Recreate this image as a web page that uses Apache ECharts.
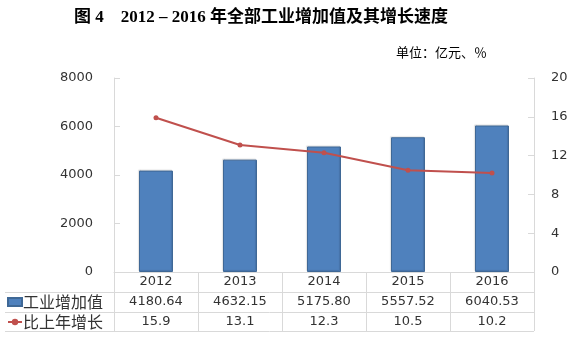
<!DOCTYPE html>
<html>
<head>
<meta charset="utf-8">
<script src="https://cdn.jsdelivr.net/npm/echarts@6/dist/echarts.min.js"></script>
<style>
  html, body { margin: 0; padding: 0; background: #fff; }
  #chart { width: 573px; height: 339px; }
</style>
</head>
<body>
<div id="chart"></div>
<script>
// 2012–2016 industrial value added (100 million yuan) and year-on-year growth (%)
const years = ['2012', '2013', '2014', '2015', '2016'];
const valueAdded = [4180.64, 4632.15, 5175.80, 5557.52, 6040.53];
const growth = [15.9, 13.1, 12.3, 10.5, 10.2];
const leftTicks = { min: 0, max: 8000, interval: 2000 };
const rightTicks = { min: 0, max: 20, interval: 4 };
const seriesNames = ['工业增加值', '比上年增长'];

const NUM_FONT = 'DejaVu Sans, Verdana, sans-serif';
const CJK_FONT = '"Noto Sans CJK SC", sans-serif';
const GRID_COLOR = '#d9d9d9';
const TEXT_COLOR = '#333';

const chart = echarts.init(document.getElementById('chart'), null, { renderer: 'canvas' });

// Data table rows under the category axis: year / value / growth
function tableLabel(value, idx) {
  return '{y|' + value + '}\n{v|' + valueAdded[idx].toFixed(2) + '}\n{g|' + growth[idx].toFixed(1) + '}';
}
const cellStyle = { fontFamily: NUM_FONT, fontSize: 13, color: TEXT_COLOR, lineHeight: 20, height: 20 };

const option = {
  animation: false,
  backgroundColor: '#fff',
  title: {
    text: '图 4\u30002012 – 2016 年全部工业增加值及其增长速度',
    left: 74,
    top: 9,
    padding: 0,
    textStyle: {
      fontFamily: '"Liberation Serif", "Noto Sans CJK SC", serif',
      fontSize: 17,
      fontWeight: 'bold',
      color: '#000'
    }
  },
  grid: { left: 114, right: 39, top: 78, bottom: 67, containLabel: false },
  legend: {
    orient: 'vertical',
    left: 7,
    top: 292,
    padding: 0,
    itemGap: 0,
    itemWidth: 14,
    itemHeight: 8,
    selectedMode: false,
    textStyle: {
      fontFamily: CJK_FONT,
      fontSize: 16,
      color: TEXT_COLOR,
      lineHeight: 20,
      padding: [0, 0, 0, -4]
    },
    data: [
      { name: seriesNames[0], icon: 'rect' },
      { name: seriesNames[1] }
    ]
  },
  xAxis: {
    type: 'category',
    data: years,
    boundaryGap: true,
    axisLine: { show: true, lineStyle: { color: GRID_COLOR, width: 1 } },
    axisTick: { show: true, length: 59, lineStyle: { color: GRID_COLOR, width: 1 } },
    axisLabel: {
      margin: 0,
      formatter: tableLabel,
      rich: { y: cellStyle, v: cellStyle, g: cellStyle }
    },
    splitLine: { show: false }
  },
  yAxis: [
    {
      type: 'value',
      min: leftTicks.min,
      max: leftTicks.max,
      interval: leftTicks.interval,
      axisLine: { show: true, lineStyle: { color: GRID_COLOR } },
      axisTick: { show: true, inside: true, length: 6, lineStyle: { color: GRID_COLOR } },
      axisLabel: {
        margin: 21,
        fontFamily: NUM_FONT,
        fontSize: 13,
        color: TEXT_COLOR,
        formatter: (v) => String(v)
      },
      splitLine: { show: false }
    },
    {
      type: 'value',
      min: rightTicks.min,
      max: rightTicks.max,
      interval: rightTicks.interval,
      position: 'right',
      axisLine: { show: true, lineStyle: { color: GRID_COLOR } },
      axisTick: { show: true, inside: true, length: 6, lineStyle: { color: GRID_COLOR } },
      axisLabel: { margin: 17, fontFamily: NUM_FONT, fontSize: 13, color: TEXT_COLOR },
      splitLine: { show: false }
    }
  ],
  series: [
    {
      name: seriesNames[0],
      type: 'bar',
      yAxisIndex: 0,
      data: valueAdded,
      barWidth: 34,
      itemStyle: {
        color: '#4F81BD',
        borderColor: '#3F6896',
        borderWidth: 1,
        shadowColor: 'rgba(0,0,0,0.12)',
        shadowBlur: 1,
        shadowOffsetX: -1,
        shadowOffsetY: -1
      }
    },
    {
      name: seriesNames[1],
      type: 'line',
      yAxisIndex: 1,
      data: growth,
      symbol: 'circle',
      symbolSize: 5,
      lineStyle: { color: '#C0504D', width: 2 },
      itemStyle: { color: '#C0504D' }
    }
  ],
  graphic: [
    // unit note
    {
      type: 'text',
      right: 86,
      top: 46,
      style: { text: '单位：亿元、％', fontFamily: CJK_FONT, fontSize: 13, fill: '#000' }
    },
    // horizontal rules of the data table
    { type: 'line', shape: { x1: 5, y1: 292.5, x2: 534, y2: 292.5 }, style: { stroke: GRID_COLOR, lineWidth: 1 } },
    { type: 'line', shape: { x1: 5, y1: 312.5, x2: 534, y2: 312.5 }, style: { stroke: GRID_COLOR, lineWidth: 1 } },
    { type: 'line', shape: { x1: 5, y1: 331.5, x2: 534, y2: 331.5 }, style: { stroke: GRID_COLOR, lineWidth: 1 } }
  ]
};

chart.setOption(option);
</script>
</body>
</html>
